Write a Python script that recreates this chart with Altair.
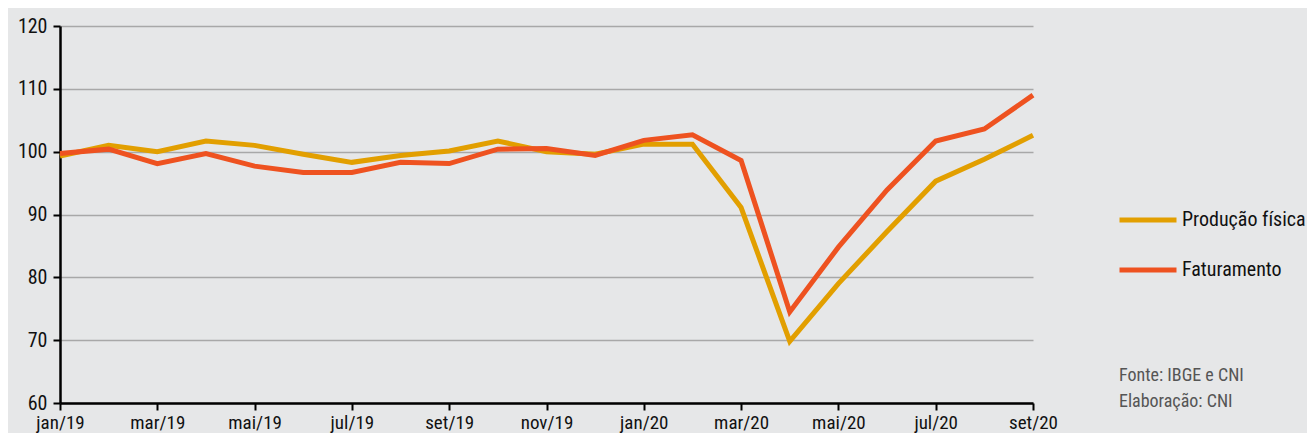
import altair as alt
import pandas as pd

months = ["jan/19", "fev/19", "mar/19", "abr/19", "mai/19", "jun/19", "jul/19",
          "ago/19", "set/19", "out/19", "nov/19", "dez/19", "jan/20", "fev/20",
          "mar/20", "abr/20", "mai/20", "jun/20", "jul/20", "ago/20", "set/20"]
producao = [99.3, 101.0, 100.0, 101.7, 101.0, 99.6, 98.3, 99.4, 100.1, 101.7, 100.0,
            99.6, 101.2, 101.2, 91.1, 69.8, 79.0, 87.3, 95.3, 98.8, 102.6]
faturamento = [99.7, 100.4, 98.1, 99.7, 97.7, 96.7, 96.7, 98.3, 98.1, 100.4, 100.5,
               99.4, 101.8, 102.7, 98.6, 74.5, 84.8, 93.9, 101.7, 103.6, 109.0]
series_names = ["Produção física", "Faturamento"]
colors = ["#E29F00", "#EE5220"]
tick_months = months[::2]
source_lines = ["Fonte: IBGE e CNI", "Elaboração: CNI"]

FONT = "Roboto Condensed, Open Sans Condensed, Liberation Sans Narrow, Roboto"

rows = []
for m, p, f in zip(months, producao, faturamento):
    rows.append({"mes": m, "serie": series_names[0], "valor": p})
    rows.append({"mes": m, "serie": series_names[1], "valor": f})
df = pd.DataFrame(rows)

lines = alt.Chart(df).mark_line(strokeWidth=5).encode(
    x=alt.X("mes:O", sort=months,
            scale=alt.Scale(type="point", padding=0),
            axis=alt.Axis(title=None, values=tick_months, labelAngle=0,
                          grid=False, domainColor="black", domainWidth=2.5,
                          tickColor="black", tickWidth=2, tickSize=7,
                          labelPadding=3, labelFontSize=19, labelColor="#111")),
    y=alt.Y("valor:Q", scale=alt.Scale(domain=[60, 120], nice=False),
            axis=alt.Axis(title=None, values=[60, 70, 80, 90, 100, 110, 120],
                          grid=True, gridColor="#a8a8a8", gridWidth=1.5,
                          domainColor="black", domainWidth=2.5,
                          tickColor="black", tickWidth=2, tickSize=7,
                          labelPadding=6, labelFontSize=20, labelColor="#111")),
    color=alt.Color("serie:N", sort=series_names,
                    scale=alt.Scale(domain=series_names, range=colors),
                    legend=alt.Legend(title=None, orient="none", legendX=1057,
                                      legendY=163, symbolType="stroke",
                                      symbolSize=3249, symbolStrokeWidth=5,
                                      labelFontSize=20, labelColor="#111",
                                      labelOffset=3, rowPadding=9)),
    order=alt.Order("serie:N", sort="descending"),
)

src = pd.DataFrame({"t": ["\n".join(source_lines)]})
source = alt.Chart(src).mark_text(
    align="left", baseline="alphabetic", fontSize=18, color="#555",
    lineBreak="\n", lineHeight=26, font=FONT,
).encode(text="t:N", x=alt.value(1059), y=alt.value(355))

chart = alt.layer(lines, source).properties(
    width=973, height=377,
    autosize=alt.AutoSizeParams(type="none"),
    padding={"left": 52, "top": 18, "right": 274, "bottom": 30},
).configure(
    background="#e6e7e8", font=FONT,
).configure_view(stroke=None)

chart.save("out.html", embed_options={"renderer": "svg", "actions": False})
